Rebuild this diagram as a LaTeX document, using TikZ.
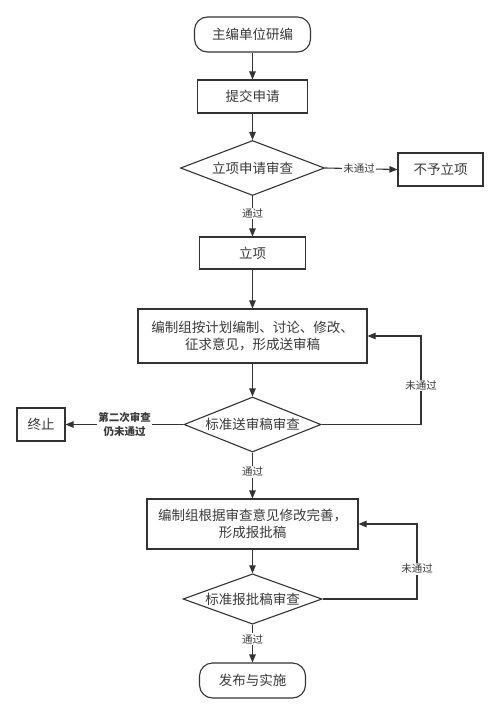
\documentclass[tikz,border=0pt]{standalone}
\usepackage{fontspec}
\setmainfont{Noto Sans CJK SC}
\usetikzlibrary{shapes.geometric,arrows.meta}
\definecolor{lc}{HTML}{333333}
\definecolor{tc}{HTML}{3A3A3A}
\begin{document}
\begin{tikzpicture}[x=1pt,y=-1pt,
  line/.style={draw=lc, line width=1.1pt},
  arr/.style={line, -{Triangle[length=8pt,width=6.5pt]}},
  box/.style={draw=lc, line width=1.1pt, text=tc, font=\fontsize{13.5}{17}\selectfont, inner sep=0pt, align=center},
  term/.style={box, rounded corners=13pt},
  dia/.style={box, shape=diamond, aspect=2.5},
  lab/.style={text=tc, font=\fontsize{10.5}{13}\selectfont, fill=white, inner sep=1pt, align=center}]
\useasboundingbox (0,0) rectangle (500,715);
\fill[white] (0,0) rectangle (500,715);

\node[term, minimum width=116pt, minimum height=35pt] (start) at (252.5,34.5) {主编单位研编};
\node[box, minimum width=110pt, minimum height=33pt] (submit) at (252.5,96.5) {提交申请};
\node[dia, minimum width=144pt, minimum height=55pt] (d1) at (252.5,168) {立项申请审查};
\node[box, minimum width=85pt, minimum height=33pt] (reject) at (440.5,169.5) {不予立项};
\node[box, minimum width=106pt, minimum height=32pt] (lixiang) at (252.5,253) {立项};
\node[box, minimum width=229pt, minimum height=54pt] (draft) at (252.5,336) {编制组按计划编制、讨论、修改、\\征求意见，形成送审稿};
\node[dia, minimum width=137pt, minimum height=55pt] (d2) at (252.5,424.5) {标准送审稿审查};
\node[box, minimum width=48pt, minimum height=33pt] (stop) at (41,424.5) {终止};
\node[box, minimum width=211pt, minimum height=50pt] (revise) at (252.5,524) {编制组根据审查意见修改完善，\\形成报批稿};
\node[dia, minimum width=139pt, minimum height=50pt] (d3) at (252.5,599) {标准报批稿审查};
\node[term, minimum width=106pt, minimum height=35pt] (end) at (252.5,680.5) {发布与实施};

\coordinate (c1) at (421,424.5);
\coordinate (c2) at (417,599);

\draw[arr] (start) -- (submit);
\draw[arr] (submit) -- (d1);
\draw[arr] (d1.east) -- node[lab, pos=0.47] {未通过} (reject.west);
\draw[arr] (d1.south) -- node[lab, pos=0.43] {通过} (lixiang.north);
\draw[arr] (lixiang) -- (draft);
\draw[arr] (draft) -- (d2);
\draw[arr] (d2.east) -- (c1) |- node[lab, pos=0.22] {未通过} (draft.east);
\draw[arr] (d2.west) -- node[lab, font=\fontsize{10.5}{14}\selectfont\bfseries, pos=0.5] {第二次审查\\仍未通过} (stop.east);
\draw[arr] (d2.south) -- node[lab, pos=0.42] {通过} (revise.north);
\draw[arr] (revise) -- (d3);
\draw[arr] (d3.east) -- (c2) |- node[lab, pos=0.2] {未通过} (revise.east);
\draw[arr] (d3.south) -- node[lab, pos=0.38] {通过} (end.north);
\end{tikzpicture}
\end{document}
